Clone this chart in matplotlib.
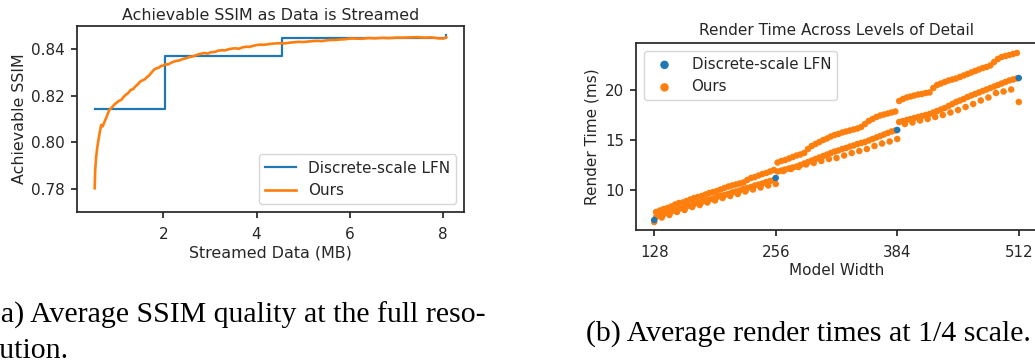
import numpy as np
import matplotlib
matplotlib.use("Agg")
import matplotlib.pyplot as plt

# ---------------- data: (a) SSIM vs streamed data ----------------
lfn_mb = [0.53, 2.04, 4.55, 8.07]
lfn_ssim = [0.8143, 0.8371, 0.8450, 0.8462]

ours_mb = [0.53, 0.54, 0.56, 0.58, 0.61, 0.64, 0.67, 0.70, 0.72, 0.74, 0.79, 0.84, 0.90,
           0.95, 1.00, 1.05, 1.10, 1.15, 1.20, 1.25, 1.30, 1.35, 1.40, 1.45, 1.50, 1.55,
           1.60, 1.65, 1.70, 1.75, 1.80, 1.85, 1.90, 1.95, 2.00, 2.05, 2.10, 2.20, 2.28,
           2.35, 2.42, 2.50, 2.58, 2.65, 2.72, 2.80, 2.88, 2.95, 3.02, 3.10, 3.18, 3.25,
           3.32, 3.40, 3.48, 3.55, 3.62, 3.70, 3.78, 3.85, 3.92, 4.00, 4.08, 4.15, 4.22,
           4.30, 4.40, 4.50, 4.60, 4.70, 4.80, 4.90, 5.00, 5.10, 5.20, 5.30, 5.40, 5.50,
           5.60, 5.70, 5.80, 5.90, 6.00, 6.10, 6.25, 6.40, 6.55, 6.70, 6.85, 7.00, 7.15,
           7.30, 7.45, 7.60, 7.75, 7.90, 8.00, 8.04, 8.07]
ours_ssim = [0.7802, 0.7880, 0.7935, 0.7970, 0.8010, 0.8045, 0.8075, 0.8068, 0.8078, 0.8088, 0.8112, 0.8138, 0.8150,
             0.8162, 0.8170, 0.8178, 0.8182, 0.8195, 0.8205, 0.8212, 0.8225, 0.8228, 0.8240, 0.8248, 0.8260, 0.8266,
             0.8270, 0.8280, 0.8288, 0.8300, 0.8312, 0.8318, 0.8320, 0.8328, 0.8330, 0.8336, 0.8334, 0.8345, 0.8350,
             0.8352, 0.8358, 0.8362, 0.8368, 0.8370, 0.8376, 0.8380, 0.8384, 0.8381, 0.8387, 0.8388, 0.8394, 0.8396,
             0.8395, 0.8400, 0.8403, 0.8404, 0.8402, 0.8408, 0.8411, 0.8410, 0.8414, 0.8418, 0.8420, 0.8419, 0.8421,
             0.8423, 0.8425, 0.8426, 0.8425, 0.8428, 0.8430, 0.8432, 0.8431, 0.8433, 0.8435, 0.8436, 0.8435, 0.8438,
             0.8440, 0.8440, 0.8442, 0.8443, 0.8446, 0.8446, 0.8445, 0.8448, 0.8447, 0.8449, 0.8448, 0.8450, 0.8450,
             0.8451, 0.8452, 0.8450, 0.8451, 0.8447, 0.8446, 0.8448, 0.8452]

# ---------------- data: (b) render time vs model width ----------------
lfn_width = [128, 256, 384, 512]
lfn_time = [7.0, 11.2, 16.0, 21.2]

dense_width = list(range(130, 256, 4)) + list(range(258, 384, 4)) + list(range(386, 512, 4))
ours_upper_time = [
    7.8, 7.95, 8.1, 8.2, 8.35, 8.55, 8.7, 8.75, 8.9, 9.05, 9.2, 9.3, 9.4, 9.55, 9.7, 9.8,
    9.9, 10.05, 10.2, 10.35, 10.45, 10.55, 10.65, 10.75, 11.0, 11.2, 11.3, 11.45, 11.6, 11.7, 11.85, 12.0,
    12.75, 12.9, 13.0, 13.15, 13.3, 13.45, 13.55, 13.7, 14.1, 14.4, 14.6, 14.8, 15.0, 15.15, 15.35, 15.5,
    15.6, 15.75, 15.85, 15.95, 16.05, 16.15, 16.3, 16.6, 16.9, 17.1, 17.3, 17.45, 17.55, 17.65, 17.75, 17.85,
    18.9, 19.1, 19.25, 19.35, 19.45, 19.55, 19.6, 19.7, 19.75, 20.2, 20.5, 20.65, 20.8, 20.95, 21.05, 21.15,
    21.3, 21.45, 21.6, 21.75, 21.9, 22.05, 22.2, 22.3, 22.45, 22.8, 23.1, 23.3, 23.4, 23.5, 23.6, 23.7]
ours_lower_time = [
    7.3, 7.45, 7.6, 7.7, 7.85, 7.95, 8.1, 8.2, 8.35, 8.45, 8.6, 8.7, 8.8, 8.95, 9.05, 9.15,
    9.3, 9.4, 9.5, 9.6, 9.75, 9.85, 9.95, 10.1, 10.2, 10.3, 10.45, 10.55, 10.65, 10.8, 10.9, 11.0,
    11.85, 11.95, 12.05, 12.15, 12.25, 12.35, 12.5, 12.65, 12.8, 12.95, 13.1, 13.25, 13.4, 13.55, 13.7, 13.85,
    13.95, 14.1, 14.2, 14.35, 14.45, 14.6, 14.7, 14.8, 14.95, 15.1, 15.25, 15.4, 15.55, 15.7, 15.85, 15.95,
    16.8, 16.9, 17.0, 17.1, 17.2, 17.3, 17.4, 17.5, 17.6, 17.75, 17.9, 18.05, 18.2, 18.4, 18.6, 18.8,
    18.95, 19.1, 19.3, 19.45, 19.6, 19.75, 19.9, 20.05, 20.2, 20.35, 20.5, 20.65, 20.8, 20.95, 21.05, 21.15]

sparse_width = list(range(128, 257, 8)) + list(range(264, 385, 8)) + list(range(392, 513, 8))
ours_sparse_time = [
    6.8, 7.25, 7.5, 7.8, 8.0, 8.3, 8.5, 8.75, 8.95, 9.2, 9.4, 9.6, 9.85, 10.05, 10.25, 10.45, 10.6,
    11.9, 12.1, 12.3, 12.55, 12.7, 12.9, 13.1, 13.2, 13.45, 13.7, 13.9, 14.1, 14.4, 14.65, 14.85, 15.1,
    16.6, 16.75, 16.95, 17.1, 17.3, 17.5, 17.75, 18.0, 18.3, 18.6, 18.95, 19.25, 19.7, 19.85, 20.05, 18.8]

width_ticks = [128, 256, 384, 512]

# ---------------- style ----------------
BLUE = "#1f77b4"
ORANGE = "#ff7f0e"
DARK = "#262626"
plt.rcParams.update({
    "font.family": ["DejaVu Sans"],
    "text.color": DARK,
    "axes.labelcolor": DARK,
    "axes.edgecolor": DARK,
    "xtick.color": DARK,
    "ytick.color": DARK,
    "axes.linewidth": 1.25,
    "xtick.major.width": 1.25,
    "ytick.major.width": 1.25,
    "xtick.major.size": 4.5,
    "ytick.major.size": 4.5,
    "xtick.major.pad": 6.5,
    "ytick.major.pad": 4,
})

fig = plt.figure(figsize=(10.35, 3.62), dpi=100)

# ---- (a) ----
FS_A = 11.4
FT_A = 11.0
ax1 = fig.add_axes([77 / 1035, 1 - 212 / 362, (464 - 77) / 1035, (212 - 26) / 362])
ax1.plot(lfn_mb, lfn_ssim, drawstyle="steps-post", color=BLUE, lw=1.6, label="Discrete-scale LFN")
ax1.plot(ours_mb, ours_ssim, color=ORANGE, lw=1.9, label="Ours")
ax1.set_xlim(0.15, 8.45)
ax1.set_ylim(0.770, 0.850)
ax1.set_xticks([2, 4, 6, 8])
ax1.set_yticks([0.78, 0.80, 0.82, 0.84])
ax1.set_yticklabels(["0.78", "0.80", "0.82", "0.84"])
ax1.tick_params(labelsize=FT_A)
ax1.set_xlabel("Streamed Data (MB)", fontsize=FS_A, labelpad=2)
ax1.set_ylabel("Achievable SSIM", fontsize=FS_A, labelpad=3)
ax1.set_title("Achievable SSIM as Data is Streamed", fontsize=FS_A, pad=4)
ax1.legend(loc="lower right", fontsize=FT_A, framealpha=0.8, edgecolor="#cccccc")

# ---- (b) ----
FS_B = 11.0
FT_B = 10.8
ax2 = fig.add_axes([636 / 1035, 1 - 230 / 362, (1037 - 636) / 1035, (230 - 43.3) / 362])
ax2.scatter(lfn_width, lfn_time, s=22, color=BLUE, edgecolors="none", zorder=3, label="Discrete-scale LFN")
ax2.scatter(dense_width, ours_upper_time, s=22, color=ORANGE, edgecolors="none", zorder=2, label="Ours")
ax2.scatter(dense_width, ours_lower_time, s=22, color=ORANGE, edgecolors="none", zorder=2)
ax2.scatter(sparse_width, ours_sparse_time, s=22, color=ORANGE, edgecolors="none", zorder=2)
ax2.set_xlim(108.8, 531.2)
ax2.set_ylim(6.0, 24.67)
ax2.set_xticks(width_ticks)
ax2.set_yticks([10, 15, 20])
ax2.tick_params(labelsize=FT_B)
ax2.set_xlabel("Model Width", fontsize=FS_B, labelpad=2)
ax2.set_ylabel("Render Time (ms)", fontsize=FS_B, labelpad=4)
ax2.set_title("Render Time Across Levels of Detail", fontsize=FS_B, pad=6)
ax2.legend(loc="upper left", fontsize=FT_B, framealpha=0.8, edgecolor="#cccccc",
           markerscale=1.3, scatterpoints=1)

# ---- captions ----
CAP = dict(family=["Liberation Serif", "DejaVu Serif"], fontsize=21.5, color="black")
fig.text(-9 / 1035, 1 - 323 / 362, "(a) Average SSIM quality at the full reso-", ha="left", va="baseline", **CAP)
fig.text(-9 / 1035, 1 - 358 / 362, "lution.", ha="left", va="baseline", **CAP)
fig.text(808 / 1035, 1 - 341 / 362, "(b) Average render times at 1/4 scale.", ha="center", va="baseline", **CAP)

fig.savefig("out.png", dpi=100)
